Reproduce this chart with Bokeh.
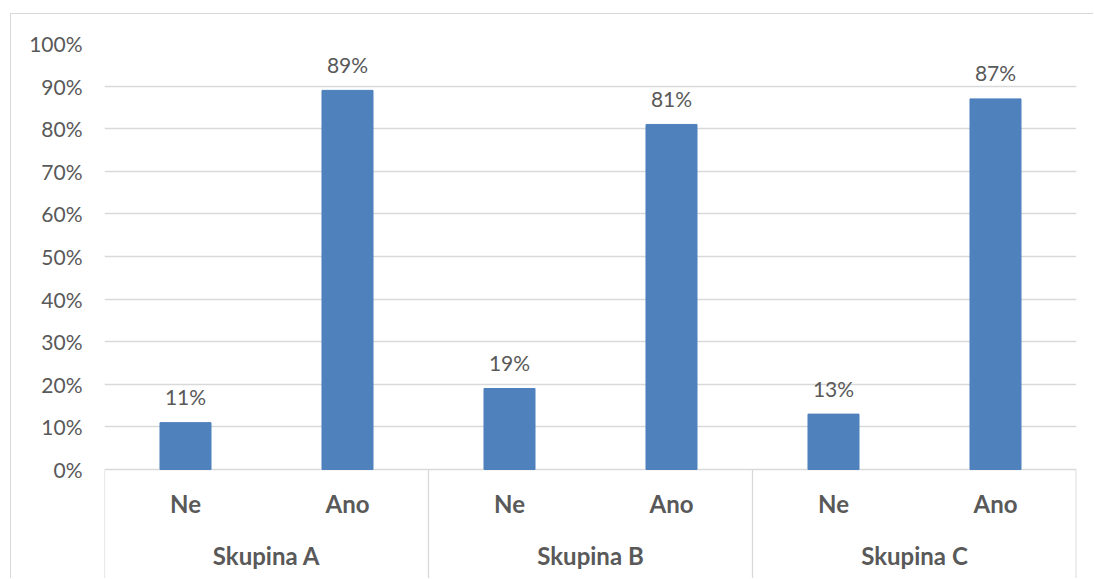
from bokeh.plotting import figure
from bokeh.models import ColumnDataSource, FixedTicker, CustomJSTickFormatter
from bokeh.core.properties import value
from bokeh.embed import file_html
from bokeh.resources import INLINE

# Survey answers per group (share of respondents)
groups = ["Skupina A", "Skupina B", "Skupina C"]
answers = ["Ne", "Ano"]
shares = [0.11, 0.89, 0.19, 0.81, 0.13, 0.87]
y_ticks = [0.0, 0.1, 0.2, 0.3, 0.4, 0.5, 0.6, 0.7, 0.8, 0.9, 1.0]

TEXT = "#595959"
GRID = "#d9d9d9"
BAR = "#4f81bd"
FONT = "Lato"

# chart area sits inside a thin border starting at (10, 13) of the page
PAGE_W, PAGE_H = 1094, 579
OFF_X, OFF_Y = 11, 14
W, H = PAGE_W - OFF_X, PAGE_H - OFF_Y
LEFT, RIGHT, TOP = 104 - OFF_X, 18, 43 - OFF_Y
PX_PER_UNIT = 426.0              # height of 0%..100% in pixels
frame_h = H - TOP
y_bottom = 1.0 - frame_h / PX_PER_UNIT

n = len(groups) * len(answers)
xs = [i + 0.5 for i in range(n)]
labels = [answers[i % len(answers)] for i in range(n)]
pct = [f"{round(v * 100)}%" for v in shares]

src = ColumnDataSource(dict(x=xs, top=shares, label=pct, cat=labels))

p = figure(width=W, height=H, output_backend="svg", toolbar_location=None,
           x_range=(0, n), y_range=(y_bottom, 1.0),
           min_border_left=LEFT, min_border_right=RIGHT,
           min_border_top=TOP, min_border_bottom=0)
p.styles = {"margin-left": "10px", "margin-top": "13px",
            "border-left": f"1px solid {GRID}", "border-top": f"1px solid {GRID}"}
p.outline_line_color = None
p.background_fill_color = "white"
p.border_fill_color = "white"

# value axis
p.xaxis.visible = False
p.xgrid.visible = False
yax = p.yaxis[0]
yax.ticker = FixedTicker(ticks=y_ticks)
yax.formatter = CustomJSTickFormatter(code="return Math.round(tick * 100) + '%';")
yax.axis_line_color = None
yax.major_tick_line_color = None
yax.minor_tick_line_color = None
yax.major_tick_out = 0
yax.major_label_standoff = 22
yax.major_label_text_font = FONT
yax.major_label_text_font_size = "21px"
yax.major_label_text_color = TEXT
p.ygrid.ticker = FixedTicker(ticks=y_ticks)
p.ygrid.grid_line_color = GRID
p.ygrid.grid_line_width = 1.3

# bars
p.vbar(x="x", top="top", bottom=0, width=0.315, source=src,
       fill_color=BAR, line_color=BAR)

# data labels above the bars
p.text(x="x", y="top", text="label", source=src, text_align="center",
       text_baseline="middle", y_offset=-26, text_font=value(FONT),
       text_font_size="21px", text_color=TEXT)

# category axis: answer labels, group labels and separators
cat_y = -34 / PX_PER_UNIT
grp_y = -86 / PX_PER_UNIT
p.text(x="x", y=cat_y, text="cat", source=src, text_align="center",
       text_baseline="middle", text_font=value(FONT), text_font_style="bold",
       text_font_size="24px", text_color=TEXT)

gx = [len(answers) * (i + 0.5) for i in range(len(groups))]
p.text(x=gx, y=[grp_y] * len(groups), text=groups, text_align="center",
       text_baseline="middle", text_font=value(FONT), text_font_style="bold",
       text_font_size="24px", text_color=TEXT)

sep_x = [len(answers) * i for i in range(len(groups) + 1)]
sep_x[-1] = n - 0.002
p.segment(x0=sep_x, x1=sep_x, y0=[0] * len(sep_x), y1=[y_bottom] * len(sep_x),
          line_color=GRID, line_width=1.3)

open("out.html", "w").write(file_html(p, INLINE))
